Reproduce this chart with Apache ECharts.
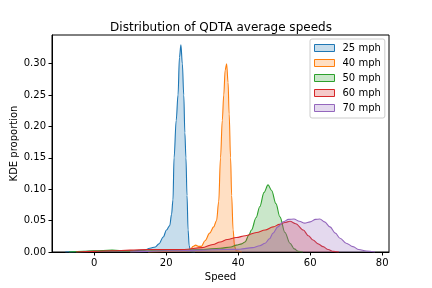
<!DOCTYPE html>
<html>
<head>
<meta charset="utf-8">
<script src="https://cdn.jsdelivr.net/npm/echarts@6/dist/echarts.min.js"></script>
<style>html,body{margin:0;padding:0;background:#fff;}#c{width:432px;height:288px;}</style>
</head>
<body>
<div id="c"></div>
<script>
const seriesNames = ['25 mph', '40 mph', '50 mph', '60 mph', '70 mph'];
const lineColors = ['#1f77b4', '#ff7f0e', '#2ca02c', '#d62728', '#9467bd'];
const fillColors = ['rgba(31,119,180,0.25)', 'rgba(255,127,14,0.25)', 'rgba(44,160,44,0.25)', 'rgba(214,39,40,0.25)', 'rgba(148,103,189,0.25)'];
const xTicks = [0, 20, 40, 60, 80];
const yTicks = [0, 0.05, 0.10, 0.15, 0.20, 0.25, 0.30];

const kde25 = [[-8,0],[0,0.001],[10,0.002],[14,0.003],[15.5,0.006],[17,0.008],[18,0.013],[19.2,0.024],[20.1,0.035],[21,0.042],[21.5,0.06],[21.9,0.083],[22.2,0.15],[22.8,0.21],[23.3,0.25],[23.7,0.31],[24.1,0.33],[24.5,0.30],[24.9,0.25],[25.2,0.19],[25.5,0.15],[25.8,0.09],[26.1,0.035],[26.4,0.01],[26.8,0.001],[28,0]];
const kde40 = [[15,0],[20,0.001],[25,0.002],[26.6,0.003],[27.5,0.009],[28.2,0.011],[29,0.009],[29.8,0.009],[30.8,0.018],[32.1,0.030],[33.2,0.040],[34,0.050],[34.6,0.08],[35.1,0.15],[35.6,0.21],[36.0,0.25],[36.4,0.29],[36.8,0.30],[37.2,0.27],[37.5,0.22],[37.9,0.15],[38.2,0.09],[38.6,0.035],[39.0,0.01],[39.4,0.002],[41,0]];
const kde50 = [[-7,0],[-3,0.001],[0,0.002],[5,0.003],[9,0.002],[12,0.001],[16,0.002],[22,0.003],[30,0.004],[35,0.006],[38,0.008],[39.5,0.011],[41,0.013],[41.9,0.016],[43,0.027],[43.7,0.035],[45,0.055],[46,0.072],[47.2,0.095],[48.3,0.107],[49.3,0.098],[50.5,0.077],[51.6,0.056],[53,0.031],[54.4,0.014],[55.6,0.005],[56.7,0.001],[58,0]];
const kde60 = [[-5,0],[0,0.001],[5,0.002],[10,0.003],[15,0.004],[20,0.004],[25,0.004],[30,0.007],[33,0.012],[35,0.016],[37,0.020],[39.5,0.023],[42,0.026],[45.1,0.031],[47.5,0.035],[49.7,0.040],[51.5,0.044],[53,0.047],[54.4,0.049],[56,0.045],[58.1,0.035],[59.5,0.026],[60.8,0.019],[62.2,0.013],[63.6,0.0085],[65,0.004],[66.4,0.001],[68,0]];
const kde70 = [[10,0],[15,0.001],[20,0.002],[30,0.003],[36,0.004],[40.5,0.0045],[44,0.007],[46,0.010],[47.5,0.014],[48.7,0.021],[49.7,0.030],[51,0.040],[52.5,0.048],[54,0.052],[55.5,0.0525],[57,0.049],[58.5,0.046],[60,0.048],[61.5,0.052],[62.7,0.0525],[64,0.048],[65.5,0.040],[67,0.030],[68.3,0.022],[70,0.014],[71.9,0.0085],[73.5,0.004],[75.6,0.0016],[78,0]];
const allData = [kde25, kde40, kde50, kde60, kde70];

const FONT = 'DejaVu Sans';
const chart = echarts.init(document.getElementById('c'), null, {renderer: 'canvas'});
chart.setOption({
  animation: false,
  backgroundColor: '#fff',
  title: {
    text: 'Distribution of QDTA average speeds',
    left: 216, top: 17, textAlign: 'center',
    textStyle: {fontFamily: FONT, fontSize: 12, fontWeight: 'normal', color: '#000'}
  },
  grid: {left: 52, top: 35, width: 337, height: 217, containLabel: false, outerBoundsMode: 'none', show: true, borderColor: '#000', borderWidth: 1, backgroundColor: 'transparent'},
  legend: {
    orient: 'vertical', left: 310, top: 39,
    padding: [4, 4, 5, 4],
    itemWidth: 20, itemHeight: 7, itemGap: 5,
    borderColor: '#cccccc', borderWidth: 1, borderRadius: 2,
    backgroundColor: 'rgba(255,255,255,0.8)',
    textStyle: {fontFamily: FONT, fontSize: 10, color: '#000', lineHeight: 10, padding: [0, 0, 0, 3]},
    data: seriesNames.map((n, i) => ({name: n, icon: 'rect', itemStyle: {color: fillColors[i], borderColor: lineColors[i], borderWidth: 1}}))
  },
  xAxis: {
    type: 'value', min: -11.7, max: 81.9,
    name: 'Speed', nameLocation: 'middle', nameGap: 20, nameMoveOverlap: false,
    nameTextStyle: {fontFamily: FONT, fontSize: 10, color: '#000'},
    splitLine: {show: false},
    axisLine: {show: true, onZero: false, lineStyle: {color: '#000', width: 1}},
    axisTick: {show: true, inside: false, length: 3.5, lineStyle: {color: '#000'}, customValues: xTicks},
    axisLabel: {fontFamily: FONT, fontSize: 10, color: '#000', margin: 6, customValues: xTicks, formatter: v => String(v)}
  },
  yAxis: {
    type: 'value', min: 0, max: 0.3457,
    name: 'KDE proportion', nameLocation: 'middle', nameGap: 33, nameMoveOverlap: false,
    nameTextStyle: {fontFamily: FONT, fontSize: 10, color: '#000'},
    splitLine: {show: false},
    axisLine: {show: true, onZero: false, lineStyle: {color: '#000', width: 1}},
    axisTick: {show: true, inside: false, length: 3.5, lineStyle: {color: '#000'}, customValues: yTicks},
    axisLabel: {fontFamily: FONT, fontSize: 10, color: '#000', margin: 6, customValues: yTicks, formatter: v => v.toFixed(2)}
  },
  series: allData.map((d, i) => ({
    name: seriesNames[i],
    type: 'line',
    data: d,
    showSymbol: false,
    symbol: 'none',
    smooth: 0.35,
    smoothMonotone: 'x',
    lineStyle: {color: lineColors[i], width: 1.1},
    itemStyle: {color: fillColors[i], borderColor: lineColors[i]},
    areaStyle: {color: fillColors[i], opacity: 1, origin: 'start'},
    z: 2 + i
  }))
});
</script>
</body>
</html>
